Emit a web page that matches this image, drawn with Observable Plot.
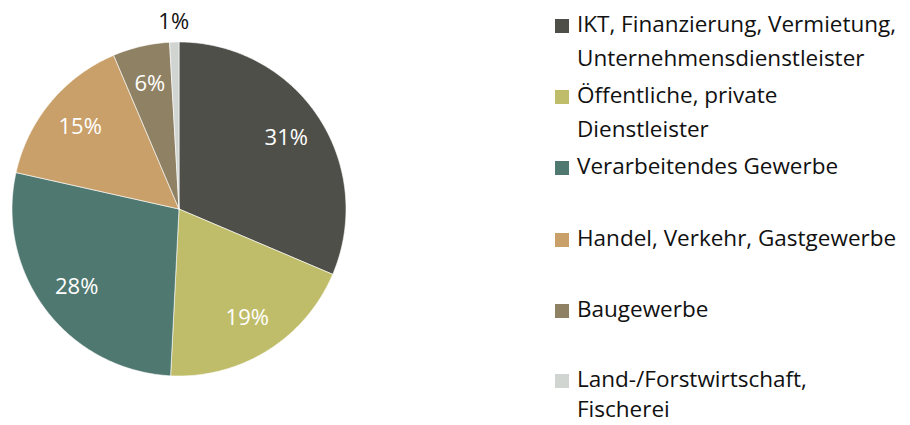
<!DOCTYPE html>
<html><head><meta charset="utf-8">
<script src="https://cdn.jsdelivr.net/npm/d3@7"></script>
<script src="https://cdn.jsdelivr.net/npm/@observablehq/plot@0.6"></script>
<style>
body{margin:0;background:#fff;font-family:"Open Sans",sans-serif;}
#wrap{position:relative;width:910px;height:425px;overflow:hidden;}
#legend{position:absolute;left:555px;top:0;font-size:22.5px;color:#111;line-height:34px;}
.item{position:absolute;left:0;display:flex;align-items:flex-start;white-space:nowrap;}
.sw{width:14px;height:14px;margin-top:12px;margin-right:8px;flex:none;}
</style></head><body>
<div id="wrap"><div id="chart"></div><div id="legend"></div></div>
<script>
const categories = ["IKT, Finanzierung, Vermietung, Unternehmensdienstleister","Öffentliche, private Dienstleister","Verarbeitendes Gewerbe","Handel, Verkehr, Gastgewerbe","Baugewerbe","Land-/Forstwirtschaft, Fischerei"];
const legendLines = [["IKT, Finanzierung, Vermietung,","Unternehmensdienstleister"],["Öffentliche, private","Dienstleister"],["Verarbeitendes Gewerbe"],["Handel, Verkehr, Gastgewerbe"],["Baugewerbe"],["Land-/Forstwirtschaft,","Fischerei"]];
const values = [31.4, 19.4, 27.7, 15.1, 5.5, 0.9];
const labels = ["31%","19%","28%","15%","6%","1%"];
const colors = ["#4f4f49","#c0bd6a","#4f7870","#c9a06a","#8f8163","#d0d5d2"];

const arcs = d3.pie().sort(null).value(d => d)(values);
const polys = [];
arcs.forEach((a, i) => {
  const n = Math.max(4, Math.ceil((a.endAngle - a.startAngle) * 80));
  polys.push({cat: categories[i], x: 0, y: 0});
  for (let k = 0; k <= n; k++) {
    const t = a.startAngle + (a.endAngle - a.startAngle) * k / n;
    polys.push({cat: categories[i], x: Math.sin(t), y: Math.cos(t)});
  }
  polys.push({cat: categories[i], x: 0, y: 0});
});
const lab = arcs.map((a, i) => {
  const m = (a.startAngle + a.endAngle) / 2;
  const r = i === 5 ? 1.12 : 0.77;
  return {label: labels[i], x: Math.sin(m) * r, y: Math.cos(m) * r, inside: i !== 5};
});

const plot = Plot.plot({
  width: 360, height: 425, margin: 0,
  x: {domain: [-1, 1], range: [11.5, 345.5], axis: null},
  y: {domain: [-1, 1], range: [375.5, 41.5], axis: null},
  color: {domain: categories, range: colors},
  style: {fontFamily: "Open Sans"},
  marks: [
    Plot.line(polys, {x: "x", y: "y", z: "cat", fill: "cat", stroke: "white", strokeWidth: 0.6, curve: "linear"}),
    Plot.text(lab, {x: "x", y: "y", text: "label", fill: d => d.inside ? "white" : "#111", fontSize: 22})
  ]
});
document.getElementById("chart").appendChild(plot);

const tops = [7, 78, 149, 221, 292, 364];
const leg = document.getElementById("legend");
legendLines.forEach((lines, i) => {
  const it = document.createElement("div");
  it.className = "item";
  it.style.top = tops[i] + "px";
  if (i === legendLines.length - 1) it.style.lineHeight = "30px";
  it.innerHTML = `<div class="sw" style="background:${colors[i]};margin-top:${i === legendLines.length - 1 ? 10 : 12}px"></div><div>${lines.join("<br>")}</div>`;
  leg.appendChild(it);
});
</script></body></html>
